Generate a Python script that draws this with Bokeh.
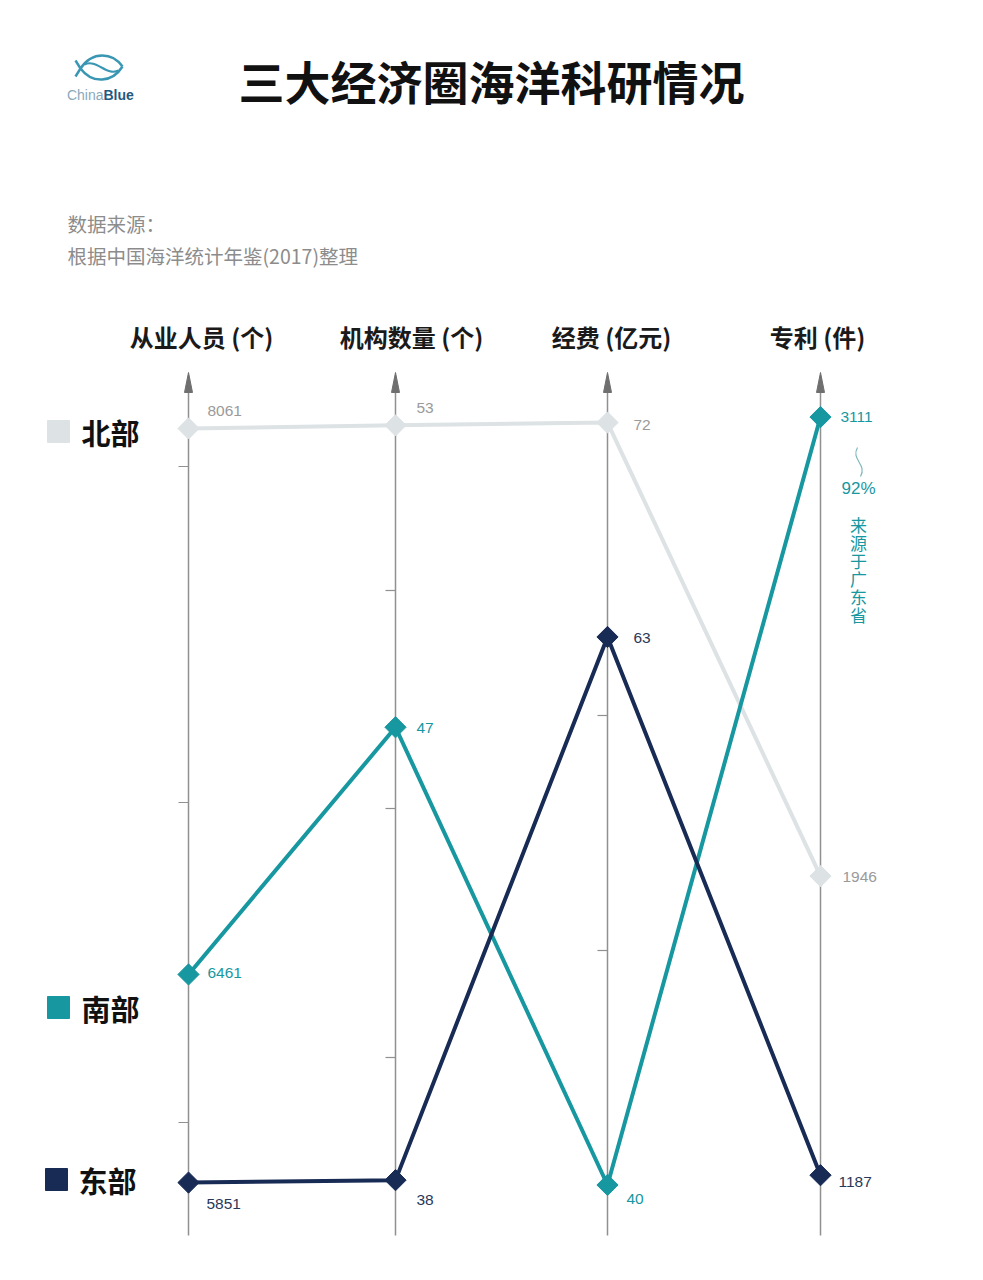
from bokeh.plotting import figure
from bokeh.models import Range1d
from bokeh.embed import file_html
from bokeh.resources import INLINE
from bokeh.core.properties import value
import math

# ---------------- data ----------------
regions = ["北部", "南部", "东部"]
metrics = ["从业人员 (个)", "机构数量 (个)", "经费 (亿元)", "专利 (件)"]
north = [8061, 53, 72, 1946]
south = [6461, 47, 40, 3111]
east = [5851, 38, 63, 1187]
series_values = [north, south, east]

title_text = "三大经济圈海洋科研情况"
source_lines = ["数据来源：", "根据中国海洋统计年鉴(2017)整理"]
note_pct = "92%"
note_text = "来源于广东省"

# ---------------- styles / layout ----------------
line_colors = ["#dde2e5", "#17979f", "#182b55"]
label_colors = ["#9a9a9a", "#17979f", "#2a3858"]
CJK = "Noto Sans CJK SC"
LAT = "Liberation Sans"

# per-axis linear scale domain (value at bottom, value at top)
axis_domains = [(5696, 8225), (36.90, 54.05), (37.88, 74.10), (1034, 3224)]
AX_X = [188, 395, 607, 820]
Y_TOP, Y_BOT = 372, 1235
axis_minor_ticks = [[466, 802, 1122], [590, 808, 1057], [715, 950], []]

# label offsets (dx, dy) per series per axis
label_offsets = [
    [(19, -17), (21, -17), (26, 2), (22, 1)],
    [(19, -1), (21, 1), (19, 14), (20, 0)],
    [(18, 21), (21, 20), (26, 1), (18, 7)],
]
legend_pos = [(58, 81, 431), (58, 81, 1007), (56, 78, 1179)]


def ypos(i, v):
    lo, hi = axis_domains[i]
    return Y_BOT + (v - lo) / (hi - lo) * (Y_TOP - Y_BOT)


W, H = 967, 1264
p = figure(width=W, height=H, output_backend="svg", toolbar_location=None,
           x_range=Range1d(0, W), y_range=Range1d(H, 0),
           min_border=0, outline_line_color=None, background_fill_color="white")
p.axis.visible = False
p.grid.visible = False

# ---------------- logo ----------------
fish = "#3a97b3"
p.bezier(x0=[80], y0=[68], x1=[122], y1=[66], cx0=[92], cy0=[50], cx1=[112], cy1=[52],
         line_color=fish, line_width=2.5)
p.bezier(x0=[80], y0=[68], x1=[122], y1=[66], cx0=[92], cy0=[84], cx1=[112], cy1=[82],
         line_color=fish, line_width=2.5)
p.bezier(x0=[84], y0=[64], x1=[118], y1=[70], cx0=[96], cy0=[58], cx1=[106], cy1=[76],
         line_color=fish, line_width=2)
p.segment(x0=[80, 80], y0=[68, 68], x1=[75, 75], y1=[60, 76], line_color=fish, line_width=2.5)
p.text(x=[103], y=[94], text=["China"], text_font=value(LAT), text_font_size="14px",
       text_color="#8aa9bb", text_align="right", text_baseline="middle")
p.text(x=[103], y=[94], text=["Blue"], text_font=value(LAT), text_font_size="14px",
       text_font_style="bold", text_color="#1f5a80", text_align="left", text_baseline="middle")

# ---------------- title & source ----------------
p.text(x=[491], y=[79], text=[title_text], text_font=value(CJK), text_font_size="46px",
       text_font_style="bold", text_color="#111111", text_align="center", text_baseline="middle")
p.text(x=[67, 67], y=[223, 255], text=source_lines, text_font=value(CJK), text_font_size="19.5px",
       text_color="#8c8c8c", text_align="left", text_baseline="middle")

# ---------------- axes ----------------
header_x = [201, 411, 611, 817]
p.text(x=header_x, y=[336] * 4, text=metrics, text_font=value(CJK), text_font_size="24px",
       text_font_style="bold", text_color="#1a1a1a", text_align="center", text_baseline="middle")
p.segment(x0=AX_X, y0=[Y_TOP + 12] * 4, x1=AX_X, y1=[Y_BOT] * 4, line_color="#909090", line_width=1.5)
p.patches(xs=[[x - 4, x, x + 4] for x in AX_X], ys=[[Y_TOP + 20, Y_TOP, Y_TOP + 20]] * 4,
          fill_color="#6f6f6f", line_color="#6f6f6f", line_width=1)
tx0, ty0 = [], []
for x, ticks in zip(AX_X, axis_minor_ticks):
    for t in ticks:
        tx0.append(x)
        ty0.append(t)
p.segment(x0=[x - 10 for x in tx0], y0=ty0, x1=tx0, y1=ty0, line_color="#909090", line_width=1.2)

# ---------------- series ----------------
for s, vals in enumerate(series_values):
    ys = [ypos(i, v) for i, v in enumerate(vals)]
    p.line(AX_X, ys, line_color=line_colors[s], line_width=4, line_join="round")
    p.scatter(AX_X, ys, marker="square", size=15, angle=math.pi / 4,
              fill_color=line_colors[s], line_color=line_colors[s])
    lx = [AX_X[i] + label_offsets[s][i][0] for i in range(4)]
    ly = [ys[i] + label_offsets[s][i][1] for i in range(4)]
    p.text(x=lx, y=ly, text=[str(v) for v in vals], text_font=value(LAT), text_font_size="15.5px",
           text_color=label_colors[s], text_align="left", text_baseline="middle")

# ---------------- legend ----------------
for s, (sx, tx, ty) in enumerate(legend_pos):
    p.scatter([sx], [ty], marker="square", size=22, fill_color=line_colors[s],
              line_color=line_colors[s])
    p.text(x=[tx], y=[ty], text=[regions[s]], text_font=value(CJK), text_font_size="29px",
           text_font_style="bold", text_color="#111111", text_align="left", text_baseline="middle")

# ---------------- annotation ----------------
p.bezier(x0=[857], y0=[447], x1=[860], y1=[476], cx0=[850], cy0=[459], cx1=[867], cy1=[464],
         line_color="#7fb8bc", line_width=1.2)
p.text(x=[858], y=[488], text=[note_pct], text_font=value(LAT), text_font_size="17px",
       text_color="#17979f", text_align="center", text_baseline="middle")
p.text(x=[858] * len(note_text), y=[524 + 18 * k for k in range(len(note_text))],
       text=list(note_text), text_font=value(CJK), text_font_size="17px",
       text_color="#17979f", text_align="center", text_baseline="middle")

open("out.html", "w").write(file_html(p, INLINE))
